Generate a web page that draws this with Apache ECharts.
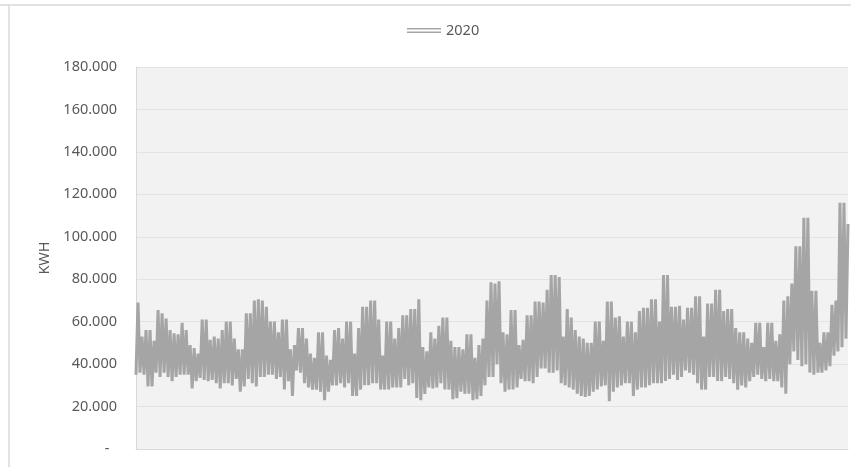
<!DOCTYPE html>
<html>
<head>
<meta charset="utf-8">
<script src="https://cdn.jsdelivr.net/npm/echarts@6/dist/echarts.min.js"></script>
<style>
  html, body { margin: 0; padding: 0; background: #ffffff; }
  #chart { width: 851px; height: 467px; }
</style>
</head>
<body>
<div id="chart"></div>
<script>
// Hourly consumption for 2020, condensed into successive low / high readings (KWH)
const seriesName = '2020';
const lows = [
  35,36,35,29.5,29.5,36,34,36,34,32, 34,35,35,35,28.5,32,33.5,32.5,32,32.5, 31,28.5,
  31,31,30,33,27,29.5,33,31,29.5,34, 34,35,35,33,34,28,32,25,37,36, 31,29,28,
  28,27,23,27,30,30,31,29,31,25, 25,28,30,30,31,31,28,28,28,29, 29,29,
  33,30,31,24,23,26,29,28.5,29,31, 28,28,23.5,24,27,26,26,23,23.5,25, 30,34,34,
  40,31,27,28,28,29,33,32,32,31, 34,38,38,36,36,37,31,30,29,28, 26,25,
  24.5,25,27,28,29.5,30,22.5,27,29,30, 31,31,25,28,29,29,30,31,31,31, 32,33,35,
  32.5,34,37,36,35,31,28,28,34,34, 32,32,34,33,31,28,30,29,32,34,
  35,33,32,33,32,32,29,26,40,46, 42,39,40,36,35,36,36,37,39,44, 46,48,52
];
const highs = [
  69,53,56,56,51,65.5,64,61.5,56,54.5, 54,59.5,56,49,47.5,45,61,61,51.5,53, 52,56,
  60,60,52,47,47,64,64,70,70.5,70, 67,60,60,55,61,61,47,49,57,57, 52,45,43,
  55,55,44,42,56,57,52,60,60,45, 57,67,67,70,70,61,44,60,60,52, 57,63,
  63,66,66,70.5,48,46,55,52,58,62, 62,51,48,48,47,54,54,43,49,52, 70,78.5,78,
  79,55,54,65.5,65.5,49,51.5,63,63,69.5, 69.5,69,75,82,82,81,53,66,62,56, 53,52,
  50,50,60,60,51,69.5,69.5,62,62.5,53, 60,60,55,65,66.5,66.5,70.5,70.5,60,82, 82,67,67,
  67.5,61,66.5,66.5,72,72,53,68.5,68.5,75, 75,65,66,66,57,55,55,52,50,59.5,
  59.5,48,59.5,59.5,51,54,70,72,78,95.5, 95.5,109,109,74.5,74.5,50,55,55,68,70, 116,116,106
];
const yTicks = { min: 0, max: 180, step: 20 };

// Interleave the readings in time order
const values = [];
lows.forEach((lo, i) => { values.push(lo, highs[i]); });
const steps = values.map((_, i) => i);

const FONT = 'Noto Sans';
const chart = echarts.init(document.getElementById('chart'), null, { renderer: 'canvas' });
chart.setOption({
  animation: false,
  backgroundColor: '#ffffff',
  textStyle: { fontFamily: FONT },
  graphic: [
    { type: 'line', shape: { x1: 0, y1: 5, x2: 851, y2: 5 }, style: { stroke: '#d9d9d9', lineWidth: 1.5 }, silent: true },
    { type: 'line', shape: { x1: 9, y1: 5, x2: 9, y2: 467 }, style: { stroke: '#d9d9d9', lineWidth: 1.5 }, silent: true }
  ],
  legend: {
    left: 407,
    top: 23,
    padding: 0,
    itemWidth: 34,
    itemHeight: 5,
    itemGap: 10,
    icon: 'path://M0,0H34V1.6H0Z M0,3.4H34V5H0Z',
    textStyle: { color: '#595959', fontSize: 14.5, fontFamily: FONT, padding: [0, 0, 0, 0] },
    data: [seriesName]
  },
  grid: {
    left: 136,
    right: 3,
    top: 67,
    bottom: 18,
    show: true,
    backgroundColor: '#f2f2f2',
    borderWidth: 0
  },
  xAxis: {
    type: 'category',
    data: steps,
    boundaryGap: false,
    axisLine: { show: true, lineStyle: { color: '#d9d9d9', width: 1 } },
    axisTick: { show: false },
    axisLabel: { show: false },
    splitLine: { show: false }
  },
  yAxis: {
    type: 'value',
    min: yTicks.min,
    max: yTicks.max,
    interval: yTicks.step,
    name: 'KWH',
    nameLocation: 'middle',
    nameGap: 80,
    nameRotate: 90,
    nameTextStyle: { color: '#595959', fontSize: 14.5, fontFamily: FONT },
    axisLine: { show: true, lineStyle: { color: '#d9d9d9', width: 1 } },
    axisTick: { show: false },
    axisLabel: {
      color: '#595959',
      fontSize: 14.5,
      fontFamily: FONT,
      margin: 19,
      formatter: v => (v === 0 ? '-  ' : v.toFixed(3))
    },
    splitLine: { show: true, lineStyle: { color: '#e3e3e3', width: 1 } }
  },
  series: [{
    name: seriesName,
    type: 'line',
    data: values,
    showSymbol: false,
    symbol: 'none',
    sampling: null,
    lineStyle: { color: '#a5a5a5', width: 3, join: 'bevel' },
    itemStyle: { color: '#a5a5a5' },
    emphasis: { disabled: true }
  }]
});
</script>
</body>
</html>
